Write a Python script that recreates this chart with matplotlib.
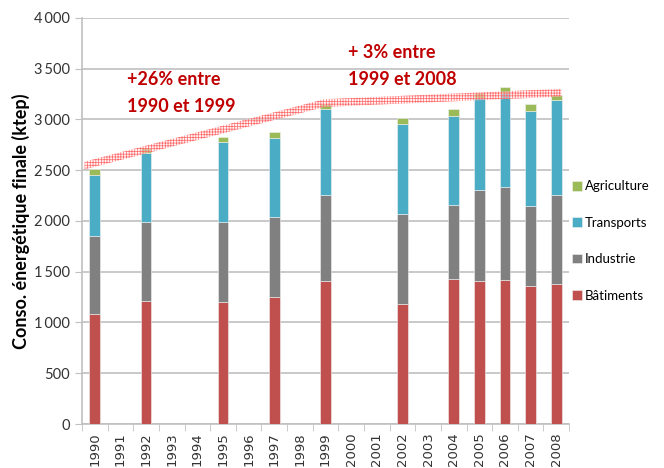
import numpy as np
import matplotlib
matplotlib.use("Agg")
from matplotlib import pyplot as plt
from matplotlib.ticker import FuncFormatter, MultipleLocator

years = list(range(1990, 2009))
bar_years = [1990, 1992, 1995, 1997, 1999, 2002, 2004, 2005, 2006, 2007, 2008]

batiments = [1080, 1210, 1200, 1250, 1405, 1185, 1427, 1407, 1414, 1358, 1381]
industrie = [768, 781, 794, 787, 853, 879, 731, 899, 915, 784, 876]
transports = [600, 676, 781, 784, 843, 889, 879, 902, 928, 944, 938]
agriculture = [62, 49, 52, 59, 52, 62, 63, 49, 59, 63, 49]

series = [
    ("Bâtiments", batiments, "#c0504d"),
    ("Industrie", industrie, "#808080"),
    ("Transports", transports, "#4bacc6"),
    ("Agriculture", agriculture, "#9bbb59"),
]

# trend band (x as category index, y in ktep)
trend_x = [-0.4, 8.95, 18.2]
trend_y = [2545, 3160, 3262]

plt.rcParams["font.family"] = ["Lato", "DejaVu Sans"]

fig = plt.figure(figsize=(6.64, 4.68), dpi=100)
ax = fig.add_axes([0.1235, 0.094, 0.7335, 0.868])

pos = [years.index(y) for y in bar_years]
bottom = np.zeros(len(bar_years))
handles = []
for name, vals, col in series:
    h = ax.bar(pos, vals, 0.42, bottom=bottom, color=col, label=name,
               edgecolor="#f2f2f2", linewidth=0.4, zorder=3)
    handles.append(h)
    bottom += np.array(vals)

# hatched band
tx = np.linspace(trend_x[0], trend_x[-1], 200)
ty = np.interp(tx, trend_x, trend_y)
plt.rcParams["hatch.linewidth"] = 0.5
ax.fill_between(tx, ty - 38, ty + 38, facecolor=(1, 0.9, 0.9, 0.5),
                edgecolor="#ff6a6a", hatch="++++++", linewidth=0, zorder=4)

ax.set_xlim(-0.5, len(years) - 0.5)
ax.set_ylim(0, 4000)
ax.yaxis.set_major_locator(MultipleLocator(500))
ax.yaxis.set_major_formatter(FuncFormatter(lambda v, p: f"{int(v):,}".replace(",", "\u2009")))
ax.grid(axis="y", color="#c0c0c0", linewidth=1.2, zorder=0)
ax.set_xticks(range(len(years)))
ax.set_xticklabels([str(y) for y in years], rotation=90, fontsize=9.5, color="#333333",
                   family=["DejaVu Sans"])
ax.set_xticks(np.arange(-0.5, len(years)), minor=True)
ax.tick_params(axis="x", which="major", length=0, pad=6)
ax.tick_params(axis="x", which="minor", length=5, color="#c0c0c0")
ax.tick_params(axis="y", length=5, color="#c0c0c0", labelsize=10.5, labelcolor="#333333")
for s in ["top", "right"]:
    ax.spines[s].set_visible(False)
for s in ["left", "bottom"]:
    ax.spines[s].set_color("#c0c0c0")
    ax.spines[s].set_linewidth(1.2)

ax.set_ylabel("Conso. énergétique finale (ktep)", fontsize=13, fontweight="bold",
              labelpad=3)

ax.text(1.25, 3260, "+26% entre\n1990 et 1999", color="#c00000", fontsize=13,
        fontweight="bold", linespacing=1.75, va="center", ha="left", zorder=5)
ax.text(9.88, 3526, "+ 3% entre\n1999 et 2008", color="#c00000", fontsize=13,
        fontweight="bold", linespacing=1.75, va="center", ha="left", zorder=5)

fig.legend(handles[::-1], [s[0] for s in series][::-1], loc="center left",
           bbox_to_anchor=(0.862, 0.485), frameon=False, fontsize=9.5,
           handlelength=0.75, handleheight=0.75, handletextpad=0.2, labelspacing=1.85,
           borderaxespad=0, borderpad=0)

fig.savefig("out.png", dpi=100)
